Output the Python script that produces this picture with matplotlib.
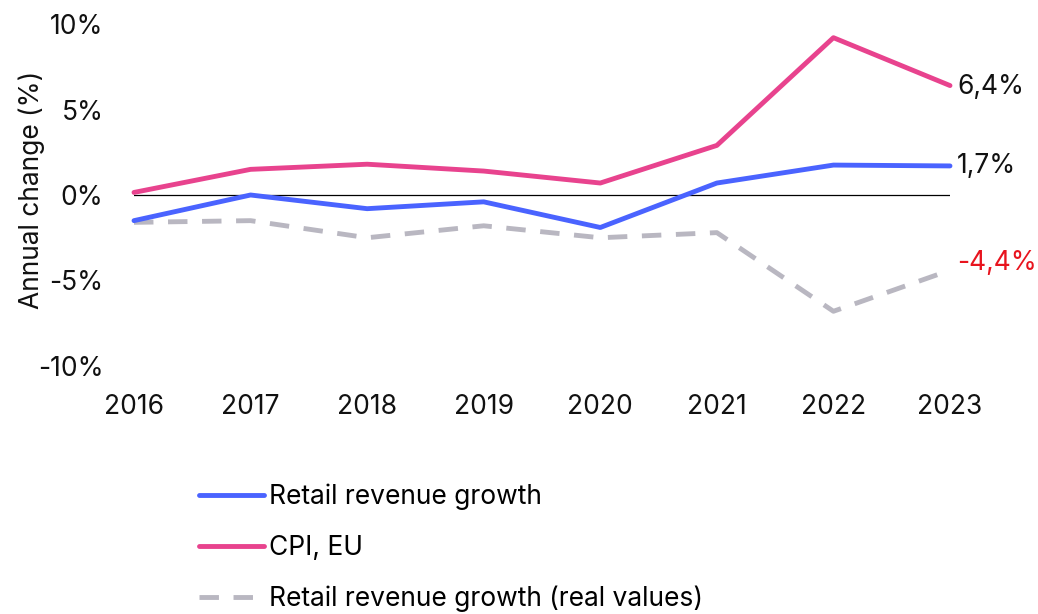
import matplotlib
matplotlib.use("Agg")
import matplotlib.pyplot as plt
from matplotlib.lines import Line2D

plt.rcParams['font.family'] = ['Inter', 'DejaVu Sans']

years = [2016, 2017, 2018, 2019, 2020, 2021, 2022, 2023]
retail_growth = [-1.5, 0.0, -0.8, -0.4, -1.9, 0.7, 1.75, 1.7]
cpi_eu = [0.15, 1.5, 1.8, 1.4, 0.7, 2.9, 9.2, 6.4]
retail_real = [-1.6, -1.5, -2.5, -1.8, -2.5, -2.2, -6.8, -4.4]
yticks = [-10, -5, 0, 5, 10]
ytick_labels = ['-10%', '-5%', '0%', '5%', '10%']
end_labels = ['1,7%', '6,4%', '-4,4%']
series_names = ['Retail revenue growth', 'CPI, EU', 'Retail revenue growth (real values)']

c_blue = '#4A63FF'
c_pink = '#E8438E'
c_gray = '#B9B7C1'
c_red = '#E8141E'
txt = '#111111'
fs = 19

fig = plt.figure(figsize=(10.38, 6.14), dpi=100)
ax = fig.add_axes([134/1038, 1 - 366/614, (950-134)/1038, (366-24)/614])

ax.axhline(0, color='black', lw=0.9, zorder=1)
ax.plot(years, retail_real, color=c_gray, lw=3.5, ls=(0, (4, 3)), clip_on=False, zorder=2)
ax.plot(years, retail_growth, color=c_blue, lw=3.5, clip_on=False, zorder=3, solid_capstyle='round')
ax.plot(years, cpi_eu, color=c_pink, lw=3.5, clip_on=False, zorder=4, solid_capstyle='round')

ax.set_xlim(years[0], years[-1])
ax.set_ylim(-10, 10)
ax.set_yticks(yticks)
ax.set_yticklabels(ytick_labels)
ax.set_xticks(years)
ax.set_xticklabels([str(y) for y in years])
ax.tick_params(length=0, labelsize=fs, colors=txt)
ax.tick_params(axis='y', pad=22)
ax.tick_params(axis='x', pad=20)
for s in ax.spines.values():
    s.set_visible(False)
fig.text(32/1038, 1 - 190/614, 'Annual change (%)', rotation=90, ha='center', va='center',
         fontsize=19, color=txt)

ax.annotate(end_labels[0], (years[-1], retail_growth[-1]), xytext=(5, 0), textcoords='offset points',
            va='center', ha='left', fontsize=fs, color=txt)
ax.annotate(end_labels[1], (years[-1], cpi_eu[-1]), xytext=(5, -1), textcoords='offset points',
            va='center', ha='left', fontsize=fs, color=txt)
ax.annotate(end_labels[2], (years[-1], retail_real[-1]), xytext=(5, 5), textcoords='offset points',
            va='center', ha='left', fontsize=fs, color=c_red)

handles = [
    Line2D([], [], color=c_blue, lw=3.5, solid_capstyle='round'),
    Line2D([], [], color=c_pink, lw=3.5, solid_capstyle='round'),
    Line2D([], [], color=c_gray, lw=3.5, ls=(0, (4, 3))),
]
fig.legend(handles, series_names, loc='upper left', bbox_to_anchor=(0.192, 0.212),
           bbox_transform=fig.transFigure, frameon=False, fontsize=fs, handlelength=2.45,
           handletextpad=0.2, labelspacing=0.93, borderaxespad=0, borderpad=0)

fig.savefig('out.png', dpi=100)
